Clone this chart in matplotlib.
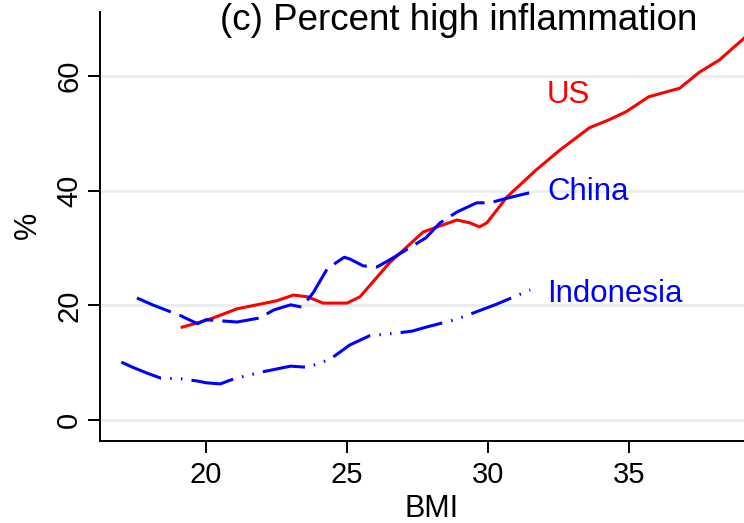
import matplotlib.pyplot as plt

plt.rcParams['font.family'] = ['Liberation Sans', 'DejaVu Sans']

# BMI vs percent high inflammation
us_bmi = [19.15, 19.8, 20.25, 21.1, 21.8, 22.5, 23.1, 23.6, 24.15, 25.0, 25.46, 26.5,
          27.7, 28.2, 28.9, 29.36, 29.7, 29.96, 30.67, 31.7, 32.55, 33.6, 34.3, 34.9,
          35.7, 36.8, 37.5, 38.2, 39.1]
us_pct = [16.2, 17.1, 17.8, 19.4, 20.1, 20.8, 21.8, 21.5, 20.4, 20.4, 21.5, 27.4,
          32.8, 33.7, 34.9, 34.4, 33.7, 34.4, 38.9, 43.6, 47.1, 51.0, 52.4, 53.8,
          56.4, 57.9, 60.7, 62.8, 66.7]

china_bmi = [17.55, 18.1, 19.1, 19.7, 20.0, 21.1, 21.9, 22.4, 23.0, 23.4, 23.8, 24.3,
             24.9, 25.1, 25.57, 26.06, 26.5, 27.8, 28.3, 28.9, 29.6, 30.07, 30.67, 31.6]
china_pct = [21.3, 20.1, 18.2, 16.8, 17.5, 17.1, 17.8, 19.2, 20.1, 19.7, 22.2, 26.4,
             28.4, 28.1, 26.9, 26.7, 27.9, 31.8, 34.4, 36.3, 37.9, 37.9, 38.7, 39.8]

indo_bmi = [17.0, 17.4, 17.9, 18.4, 19.1, 19.7, 20.0, 20.5, 21.0, 22.0, 23.0, 23.6,
            24.0, 24.4, 25.1, 25.8, 26.8, 27.3, 27.8, 28.9, 30.3, 31.5]
indo_pct = [10.1, 9.2, 8.2, 7.3, 7.2, 6.8, 6.5, 6.3, 7.2, 8.4, 9.4, 9.2,
            9.9, 10.6, 13.1, 14.7, 15.2, 15.5, 16.2, 17.6, 20.2, 22.7]

fig = plt.figure(figsize=(7.44, 5.23), dpi=100)
ax = fig.add_axes([0.1344, 0.1568, 0.8656, 0.8203])

ax.plot(us_bmi, us_pct, color='#ff0000', lw=2.2)
ax.plot(china_bmi, china_pct, color='#0000ff', lw=2.2, linestyle=(0, (12, 3)))
ax.plot(indo_bmi, indo_pct, color='#0000ff', lw=2.2, linestyle=(0, (14, 3, 0.5, 3, 0.5, 3)))

ax.text(32.09, 56.7, 'US', color='#ff0000', fontsize=22.5, va='center', ha='left')
ax.text(32.09, 39.8, 'China', color='#0000ff', fontsize=22.5, va='center', ha='left')
ax.text(32.09, 22.0, 'Indonesia', color='#0000ff', fontsize=22.5, va='center', ha='left')

ax.set_xlim(16.24, 39.08)
ax.set_ylim(-3.66, 71.2)
ax.set_xticks([20, 25, 30, 35])
ax.set_yticks([0, 20, 40, 60])
ax.yaxis.grid(True, color='#e8eff2', lw=2)
ax.set_axisbelow(True)

for s in ['top', 'right']:
    ax.spines[s].set_visible(False)
for s in ['left', 'bottom']:
    ax.spines[s].set_linewidth(1.4)

ax.tick_params(axis='both', length=8.6, width=1.4, labelsize=21)
ax.tick_params(axis='x', pad=6)
ax.tick_params(axis='y', pad=3.6)
for lab in ax.get_yticklabels():
    lab.set_rotation(90)
    lab.set_va('center')

# axis titles placed like the original
fig.text(432 / 744, 6 / 523, 'BMI', fontsize=22, ha='center', va='baseline')
fig.text(28 / 744, 1 - 225 / 523, '%', fontsize=22, ha='center', va='center', rotation=90)

fig.text(459 / 744, 1 - 20 / 523, '(c) Percent high inflammation', fontsize=26.5,
         ha='center', va='center')

fig.savefig('out.png', dpi=100)
